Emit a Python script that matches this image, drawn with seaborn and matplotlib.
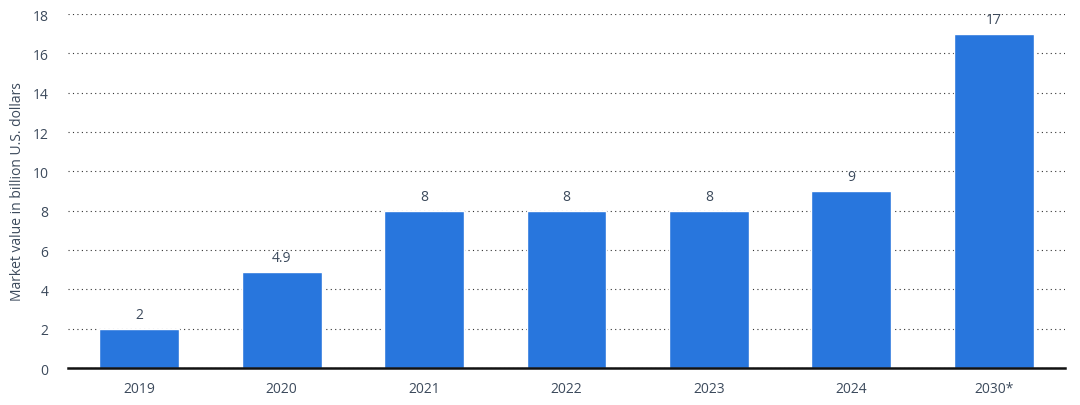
import matplotlib
matplotlib.use("Agg")
import matplotlib.pyplot as plt
import seaborn as sns
import pandas as pd

years = ["2019", "2020", "2021", "2022", "2023", "2024", "2030*"]
values = [2, 4.9, 8, 8, 8, 9, 17]
labels = ["2", "4.9", "8", "8", "8", "9", "17"]

sns.set_style("white")
plt.rcParams["font.family"] = ["Open Sans", "DejaVu Sans"]

text_col = "#3c4a5c"
bar_col = "#2876dd"

df = pd.DataFrame({"year": years, "value": values})

fig = plt.figure(figsize=(10.8, 4.06), dpi=100)
ax = fig.add_axes([0.063, 0.091, 0.923, 0.872])

sns.barplot(data=df, x="year", y="value", color=bar_col, width=0.56,
            saturation=1, ax=ax, zorder=3)

for i, (v, t) in enumerate(zip(values, labels)):
    ax.text(i, v + 0.35, t, ha="center", va="bottom", fontsize=10, color=text_col)

ax.set_ylim(0, 18)
ax.set_xlim(-0.5, 6.5)
ax.set_yticks(range(0, 19, 2))
ax.yaxis.grid(True, linestyle=(0, (1, 3)), color="#333333", linewidth=0.8)
ax.set_axisbelow(True)

for s in ["top", "right", "left"]:
    ax.spines[s].set_visible(False)
ax.spines["bottom"].set_color("#111111")
ax.spines["bottom"].set_linewidth(1.8)
ax.spines["bottom"].set_zorder(4)

ax.tick_params(axis="both", length=0, labelsize=10, colors=text_col)
ax.tick_params(axis="x", pad=9)
ax.tick_params(axis="y", pad=14)
ax.set_xlabel("")
ax.set_ylabel("Market value in billion U.S. dollars", fontsize=10, color=text_col)
ax.yaxis.set_label_coords(-0.043, 0.5)

fig.savefig("out.png", dpi=100)
